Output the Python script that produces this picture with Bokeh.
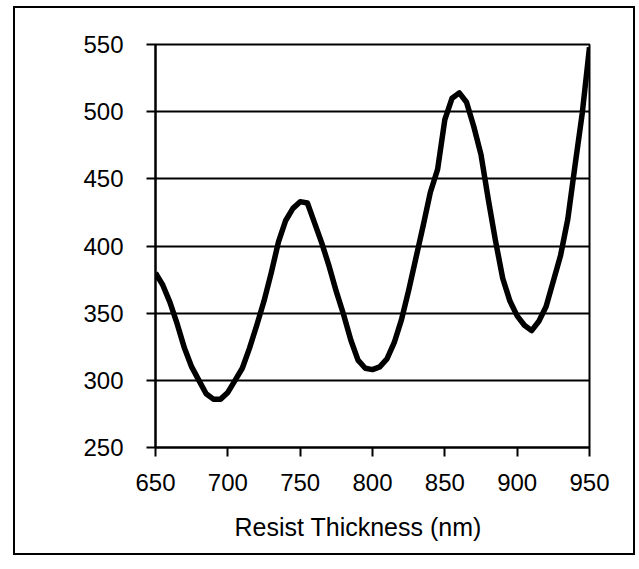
from bokeh.plotting import figure
from bokeh.models import Range1d, FixedTicker, Title
from bokeh.embed import file_html
from bokeh.resources import INLINE

# Resist thickness (nm)
thickness = [650, 655, 660, 665, 670, 675, 680, 685, 690, 695,
             700, 705, 710, 715, 720, 725, 730, 735, 740, 745,
             750, 755, 760, 765, 770, 775, 780, 785, 790, 795,
             800, 805, 810, 815, 820, 825, 830, 835, 840, 845,
             850, 855, 860, 865, 870, 875, 880, 885, 890, 895,
             900, 905, 910, 915, 920, 925, 930, 935, 940, 945, 950]
# Response values
response = [380, 371, 358, 342, 324, 310, 300, 290, 286, 286,
            291, 300, 309, 324, 341, 359, 380, 403, 419, 428,
            433, 432, 417, 402, 385, 366, 349, 330, 315, 309,
            308, 310, 316, 328, 345, 367, 391, 415, 440, 457,
            494, 510, 514, 507, 489, 468, 435, 404, 376, 359,
            348, 341, 337, 344, 355, 374, 393, 420, 460, 499, 548]

x_ticks = [650, 700, 750, 800, 850, 900, 950]
y_ticks = [250, 300, 350, 400, 450, 500, 550]
x_title = "Resist Thickness (nm)"

FONT = "Liberation Sans"

p = figure(width=622, height=549, output_backend="svg", toolbar_location=None,
           x_range=Range1d(650, 950), y_range=Range1d(250, 550),
           min_border_left=140, min_border_right=48,
           min_border_top=36, min_border_bottom=100,
           styles={"border": "2px solid black", "margin-left": "13px",
                   "margin-top": "6px"})

p.line(thickness, response, line_color="black", line_width=5.5, line_join="round")

p.outline_line_color = "black"
p.outline_line_width = 2
p.xgrid.visible = False
p.ygrid.grid_line_color = "black"
p.ygrid.grid_line_width = 2
p.ygrid.ticker = FixedTicker(ticks=y_ticks)

for ax in (p.xaxis[0], p.yaxis[0]):
    ax.axis_line_color = "black"
    ax.axis_line_width = 2
    ax.major_tick_line_color = "black"
    ax.major_tick_line_width = 2
    ax.major_tick_in = 0
    ax.major_tick_out = 9
    ax.minor_tick_line_color = None
    ax.major_label_text_font = FONT
    ax.major_label_text_font_size = "24px"
    ax.major_label_text_color = "black"

p.xaxis[0].ticker = FixedTicker(ticks=x_ticks)
p.yaxis[0].ticker = FixedTicker(ticks=y_ticks)
p.xaxis[0].major_label_standoff = 17
p.yaxis[0].major_label_standoff = 23

t = Title(text=x_title, align="left", offset=79, text_font=FONT,
          text_font_size="25px", text_font_style="normal", text_color="black",
          standoff=34)
p.add_layout(t, "below")

open("out.html", "w").write(file_html(p, INLINE))
